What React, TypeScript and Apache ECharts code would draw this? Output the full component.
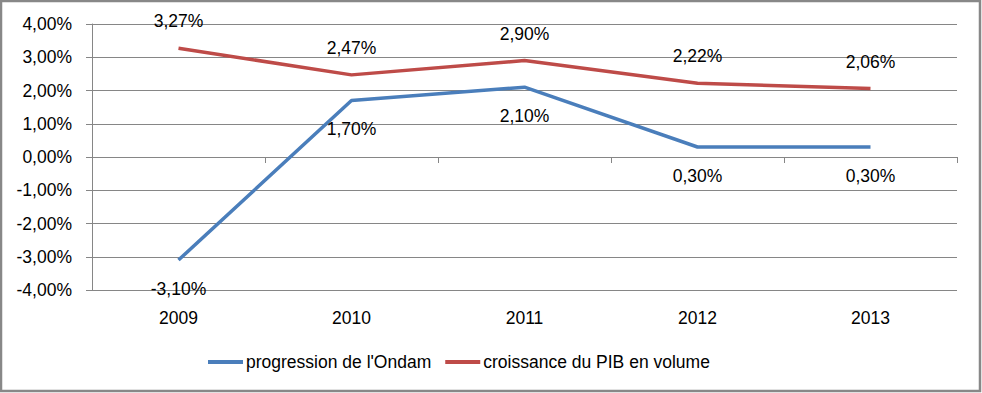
import React, { useEffect, useRef } from "react";
import * as echarts from "echarts";

const categories = ["2009", "2010", "2011", "2012", "2013"];
const ondam = [-3.1, 1.7, 2.1, 0.3, 0.3];
const pib = [3.27, 2.47, 2.9, 2.22, 2.06];
const seriesNames = ["progression de l'Ondam", "croissance du PIB en volume"];

const fmt = (v: number) => v.toFixed(2).replace(".", ",") + "%";
const FONT = "Liberation Sans";
const FS = 17.5;

export default function App() {
  const ref = useRef<HTMLDivElement>(null);
  useEffect(() => {
    document.body.style.margin = "0";
    const chart = echarts.init(ref.current!, null, { renderer: "svg" });
    chart.setOption({
      animation: false,
      backgroundColor: "#ffffff",
      textStyle: { fontFamily: FONT },
      graphic: [
        {
          type: "rect",
          shape: { x: 1, y: 1, width: 979, height: 390 },
          style: { fill: "none", stroke: "#888888", lineWidth: 2.5 },
          silent: true,
        },
      ],
      grid: { left: 92, right: 25, top: 24, bottom: 103 },
      legend: {
        left: 203,
        top: 348,
        itemWidth: 35,
        itemHeight: 4,
        itemGap: 14,
        icon: "rect",
        textStyle: { fontFamily: FONT, fontSize: FS, color: "#000", padding: [0, 0, 0, -2] },
        data: seriesNames,
      },
      xAxis: [
        {
          type: "category",
          data: categories,
          boundaryGap: true,
          axisLine: { onZero: true, lineStyle: { color: "#868686", width: 1 } },
          axisTick: { show: true, interval: 0, length: 6, lineStyle: { color: "#868686" } },
          axisLabel: { show: false },
          splitLine: { show: false },
        },
        {
          type: "category",
          data: categories,
          position: "bottom",
          boundaryGap: true,
          axisLine: { show: false, onZero: false },
          axisTick: { show: false },
          axisLabel: { margin: 19, fontSize: FS, color: "#000", fontFamily: FONT },
          splitLine: { show: false },
        },
      ],
      yAxis: {
        type: "value",
        min: -4,
        max: 4,
        interval: 1,
        axisLine: { show: true, lineStyle: { color: "#868686" } },
        axisTick: { show: true, length: 6, lineStyle: { color: "#868686" } },
        axisLabel: { margin: 20, fontSize: FS, color: "#000", fontFamily: FONT, formatter: (v: number) => fmt(v) },
        splitLine: { show: true, lineStyle: { color: "#868686", width: 1 } },
      },
      series: [
        {
          name: seriesNames[0],
          type: "line",
          data: ondam,
          xAxisIndex: 0,
          symbol: "circle",
          symbolSize: 0,
          showSymbol: true,
          lineStyle: { color: "#4a7ebb", width: 3.5 },
          itemStyle: { color: "#4a7ebb" },
          label: {
            show: true,
            position: "bottom",
            distance: 20,
            fontSize: FS,
            color: "#000",
            fontFamily: FONT,
            formatter: (p: any) => fmt(p.value),
          },
        },
        {
          name: seriesNames[1],
          type: "line",
          data: pib,
          xAxisIndex: 0,
          symbol: "circle",
          symbolSize: 0,
          showSymbol: true,
          lineStyle: { color: "#be4b48", width: 3.5 },
          itemStyle: { color: "#be4b48" },
          label: {
            show: true,
            position: "top",
            distance: 18,
            fontSize: FS,
            color: "#000",
            fontFamily: FONT,
            formatter: (p: any) => fmt(p.value),
          },
        },
      ],
    });
    return () => chart.dispose();
  }, []);
  return <div ref={ref} style={{ width: 982, height: 393 }} />;
}
